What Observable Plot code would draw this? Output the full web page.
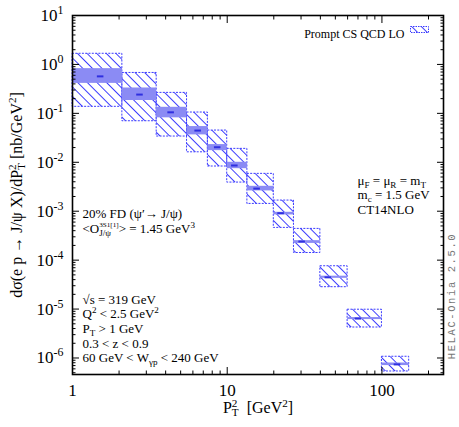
<!DOCTYPE html>
<html><head><meta charset="utf-8">
<script src="https://cdn.jsdelivr.net/npm/d3@7"></script>
<script src="https://cdn.jsdelivr.net/npm/@observablehq/plot@0.6"></script>
<style>body{margin:0;background:#fff} svg{display:block}</style>
</head><body><div id="chart"></div>
<script>
// ---- data ----
const binLo   = [1, 2.1, 3.5, 5.5, 7.5, 10, 13.5, 20, 27, 40, 60, 100];
const binHi   = [2.1, 3.5, 5.5, 7.5, 10, 13.5, 20, 27, 40, 60, 100, 150];
const ptMean  = [1.52, 2.73, 4.34, 6.49, 8.68, 11.2, 15.6, 22.3, 30.5, 45, 70.5, 126];
const central = [0.57, 0.242, 0.105, 0.0445, 0.0203, 0.0086, 0.0029, 0.00091, 0.00024, 4.45e-5, 6.4e-6, 7.4e-7];
const scaleLo = [0.41, 0.183, 0.081, 0.0363, 0.0173, 0.0074, 0.0026, 0.00084, 0.00022, 4.25e-5, 6.1e-6, 7.0e-7];
const scaleHi = [0.82, 0.33, 0.133, 0.0537, 0.023, 0.0100, 0.00323, 0.00095, 0.00025, 4.7e-5, 6.7e-6, 7.9e-7];
const totLo   = [0.136, 0.069, 0.0336, 0.016, 0.0082, 0.00385, 0.00141, 0.000456, 0.00014, 2.8e-5, 4.2e-6, 5.3e-7];
const totHi   = [1.65, 0.67, 0.262, 0.104, 0.0445, 0.0188, 0.0058, 0.00165, 0.000435, 7.5e-5, 9.7e-6, 1.06e-6];

const yTickValues = [1e-6, 1e-5, 1e-4, 1e-3, 1e-2, 1e-1, 1, 10];
const xTickValues = [1, 10, 100];

const legendLabel = "Prompt CS QCD LO";
const yTitle = "dσ(e p → J/ψ X)/dP_{T}^{2} [nb/GeV^{2}]";
const xTitle = "P_{T}^{2}  [GeV^{2}]";
const rightNotes = ["μ_{F} = μ_{R} = m_{T}", "m_{c} = 1.5 GeV", "CT14NLO"];
const leftNotes1 = ["20% FD (ψ′→ J/ψ)", "<O_{J/ψ}^{3S1[1]}> = 1.45 GeV^{3}"];
const leftNotes2 = ["√s = 319 GeV", "Q^{2} < 2.5 GeV^{2}", "P_{T} > 1 GeV", "0.3 < z < 0.9", "60 GeV < W_{γp} < 240 GeV"];
const helac = "HELAC-Onia 2.5.0";

// ---- build ----
const rows = binLo.map((lo, i) => ({lo, hi: binHi[i], m: ptMean[i], c: central[i],
  sLo: scaleLo[i], sHi: scaleHi[i], tLo: totLo[i], tHi: totHi[i]}));

const xDomain = [1, 250], yDomain = [4.6e-7, 10];
const minorOf = (lo, hi) => d3.range(Math.floor(Math.log10(lo)), Math.ceil(Math.log10(hi)) + 1)
  .flatMap(e => d3.range(2, 10).map(k => k * 10 ** e)).filter(v => v > lo && v < hi);
const xMinor = minorOf(...xDomain), yMinor = minorOf(...yDomain);

const serif = "'Liberation Serif', 'DejaVu Serif', serif";
const mono = "'Liberation Mono', 'DejaVu Sans Mono', monospace";
const blue = "#3a3aff";
const ns = "http://www.w3.org/2000/svg";

const swatch = {draw(ctx) { ctx.moveTo(-9, -3); ctx.lineTo(9, -3); ctx.lineTo(9, 3); ctx.lineTo(-9, 3); ctx.closePath(); }};
const tickMarks = (anchor, axis, ticks, size) => axis({anchor, ticks, tickSize: -size, tickFormat: () => "", label: null, strokeWidth: 1});

const chart = Plot.plot({
  width: 459, height: 427,
  marginLeft: 72, marginRight: 16, marginTop: 15, marginBottom: 53,
  style: {fontFamily: serif, background: "white", color: "black"},
  x: {type: "log", domain: xDomain},
  y: {type: "log", domain: yDomain},
  marks: [
    Plot.rect(rows, {x1: "lo", x2: "hi", y1: "tLo", y2: "tHi", fill: "url(#hatch)", stroke: blue, strokeWidth: 1, strokeDasharray: "2,1.3"}),
    Plot.rect(rows, {x1: "lo", x2: "hi", y1: "sLo", y2: "sHi", fill: "#8b8bf4"}),
    Plot.ruleY(rows, {y: "c", x1: d => d.m / 1.05, x2: d => d.m * 1.05, stroke: "#2f2fe0", strokeWidth: 2}),
    Plot.frame({stroke: "black", strokeWidth: 1.6}),
    tickMarks("left", Plot.axisY, yTickValues, 7),
    tickMarks("left", Plot.axisY, yMinor, 3.5),
    tickMarks("right", Plot.axisY, yTickValues, 7),
    tickMarks("right", Plot.axisY, yMinor, 3.5),
    tickMarks("bottom", Plot.axisX, xTickValues, 7),
    tickMarks("bottom", Plot.axisX, xMinor, 3.5),
    tickMarks("top", Plot.axisX, xTickValues, 7),
    tickMarks("top", Plot.axisX, xMinor, 3.5),
    Plot.axisY({anchor: "left", ticks: yTickValues, tickSize: 0, tickPadding: 9, fontSize: 17, label: null,
      tickFormat: d => `10^{${Math.round(Math.log10(d))}}`}),
    Plot.axisX({anchor: "bottom", ticks: xTickValues, tickSize: 0, tickPadding: 9, fontSize: 17, label: null,
      tickFormat: d => String(d)}),
    Plot.text([yTitle], {text: d => d, frameAnchor: "left", dx: -56, rotate: -90, fontSize: 16, textAnchor: "middle"}),
    Plot.text([xTitle], {text: d => d, frameAnchor: "bottom", dy: 38, fontSize: 16, textAnchor: "middle"}),
    Plot.text([legendLabel], {text: d => d, frameAnchor: "top-right", dx: -39, dy: 14, fontSize: 12, textAnchor: "end"}),
    Plot.dot([legendLabel], {frameAnchor: "top-right", dx: -24, dy: 14, symbol: swatch, fill: "url(#hatch)", stroke: blue, strokeWidth: 1, strokeDasharray: "1.5,1"}),
    Plot.text([rightNotes.join("\n")], {text: d => d, frameAnchor: "top-right", dx: -86, dy: 159, fontSize: 13, textAnchor: "start", lineAnchor: "top", lineHeight: 1.12}),
    Plot.text([leftNotes1.join("\n")], {text: d => d, frameAnchor: "top-left", dx: 10, dy: 192, fontSize: 13, textAnchor: "start", lineAnchor: "top", lineHeight: 1.15}),
    Plot.text([leftNotes2.join("\n")], {text: d => d, frameAnchor: "top-left", dx: 10, dy: 278, fontSize: 13, textAnchor: "start", lineAnchor: "top", lineHeight: 1.12}),
    Plot.text([helac], {text: d => d, frameAnchor: "right", dx: 8, dy: 101, rotate: -90, fontSize: 10.5, fontFamily: mono, fill: "#777", textAnchor: "middle"})
  ]
});
document.getElementById("chart").appendChild(chart);

// hatch pattern
const svg = chart.tagName.toLowerCase() === "svg" ? chart : chart.querySelector("svg");
const defs = document.createElementNS(ns, "defs");
defs.innerHTML = `<pattern id="hatch" patternUnits="userSpaceOnUse" width="6.8" height="6.8" patternTransform="rotate(-45)"><line x1="3.4" y1="-1" x2="3.4" y2="8" stroke="${blue}" stroke-width="1"/></pattern>`;
svg.insertBefore(defs, svg.firstChild);

// fonts: serif everywhere, monospace for the version stamp
svg.querySelectorAll("text").forEach(t => {
  if (t.textContent === helac) { t.style.fontFamily = mono; t.style.letterSpacing = "1.6px"; }
  else t.style.fontFamily = serif;
});

// rich text: _{sub} and ^{sup}
function richify(root) {
  const nodes = [];
  const it = document.createTreeWalker(root, NodeFilter.SHOW_TEXT);
  while (it.nextNode()) if (/[_^]\{/.test(it.currentNode.data)) nodes.push(it.currentNode);
  for (const node of nodes) {
    const s = node.data, parent = node.parentNode;
    const segs = []; let i = 0, buf = "";
    while (i < s.length) {
      if ((s[i] === "_" || s[i] === "^") && s[i + 1] === "{") {
        if (buf) { segs.push({k: "n", t: buf}); buf = ""; }
        const j = s.indexOf("}", i + 2);
        segs.push({k: s[i] === "_" ? "sub" : "sup", t: s.slice(i + 2, j)});
        i = j + 1;
      } else buf += s[i++];
    }
    if (buf) segs.push({k: "n", t: buf});
    const els = segs.map(seg => {
      const t = document.createElementNS(ns, "tspan");
      t.textContent = seg.t;
      if (seg.k !== "n") {
        const small = seg.t.length > 4;
        t.style.fontSize = small ? "55%" : "70%";
        t.style.baselineShift = seg.k === "sub" ? "-0.3em" : (small ? "0.9em" : "0.55em");
      }
      return t;
    });
    els.forEach(e => parent.insertBefore(e, node));
    parent.removeChild(node);
    for (let k = 1; k < segs.length; k++) {
      if (segs[k].k === "sup" && segs[k - 1].k === "sub") {
        const a = els[k - 1].getComputedTextLength(), b = els[k].getComputedTextLength();
        els[k].setAttribute("dx", -a);
        if (els[k + 1]) els[k + 1].setAttribute("dx", Math.max(0, a - b));
      }
    }
  }
}
richify(svg);
</script>
</body></html>
